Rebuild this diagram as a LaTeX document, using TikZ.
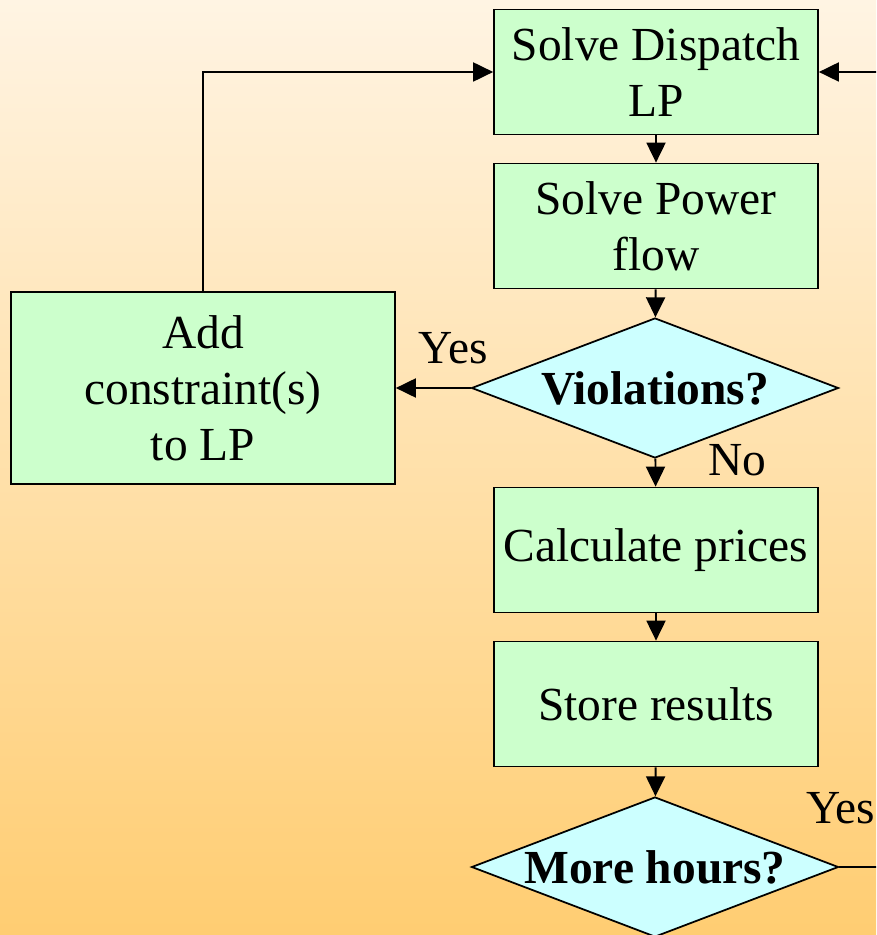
\documentclass[tikz,border=0pt]{standalone}
\usepackage{fontspec}
\setmainfont{Liberation Serif}
\usetikzlibrary{shapes.geometric,arrows.meta}
\definecolor{boxgreen}{HTML}{CCFFCC}
\definecolor{diacyan}{HTML}{CCFFFF}
\definecolor{bgtop}{HTML}{FFF4E3}
\definecolor{bgbot}{HTML}{FFCD72}
\tikzset{
 stepbox/.style={draw,fill=boxgreen,line width=1pt,minimum width=6.48cm,minimum height=2.5cm,
   align=center,inner sep=2pt,font=\fontsize{27}{32}\selectfont},
 query/.style={draw,diamond,aspect=2.62,fill=diacyan,line width=1pt,minimum width=7.34cm,minimum height=2.8cm,
   inner sep=0pt,font=\fontsize{27}{32}\selectfont\bfseries},
 flow/.style={line width=1.1pt,-{Triangle[length=0.4cm,width=0.38cm]}},
 answer/.style={font=\fontsize{27}{32}\selectfont,inner sep=0pt}
}
\begin{document}
\begin{tikzpicture}[x=0.02cm,y=-0.02cm]
 \clip (0,0) rectangle (876,935);
 \shade[top color=bgtop,bottom color=bgbot] (0,0) rectangle (876,935);
 % main column
 \node[stepbox] (dispatch) at (656,72) {Solve Dispatch\\LP};
 \node[stepbox] (power) at (656,226) {Solve Power\\flow};
 \node[query] (viol) at (655,388) {Violations?};
 \node[stepbox,minimum width=7.68cm,minimum height=3.84cm] (addc) at (203,388) {Add\\constraint(s)\\to LP};
 \node[stepbox] (prices) at (656,550) {Calculate prices};
 \node[stepbox] (store) at (656,704) {Store results};
 \node[query] (hours) at (655,867) {More hours?};
 % labels
 \node[answer] (yes1) at (453,348) {Yes};
 \node[answer] (no1) at (737,460) {No};
 \node[answer,anchor=west] (yes2) at (806,808) {Yes};
 % connectors
 \draw[flow] (dispatch) -- (power);
 \draw[flow] (power) -- (viol);
 \draw[flow] (viol) -- (prices);
 \draw[flow] (prices) -- (store);
 \draw[flow] (store) -- (hours);
 \draw[flow] (viol.west) -- (addc.east);
 \draw[flow] (addc.north) |- (dispatch.west);
 \draw[flow] (hours.east) -- (900,867) |- (dispatch.east);
\end{tikzpicture}
\end{document}
